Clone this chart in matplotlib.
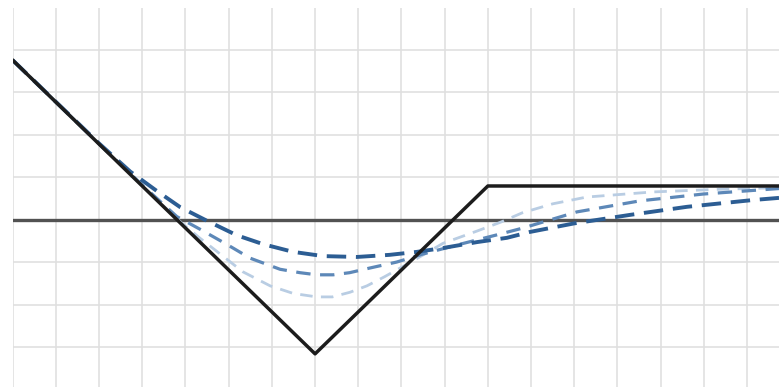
import numpy as np
import matplotlib
matplotlib.use("Agg")
import matplotlib.pyplot as plt

# payoff at expiry (grid units)
payoff_x = [0, 7, 11, 17.74]
payoff_y = [3.76, -3.15, 0.8, 0.8]

# value before expiry, three times to expiry
near_x = [0, 1, 2.0, 2.72, 3.34, 3.88, 4.5, 5.19, 5.8, 6.49, 7.19, 7.97, 8.73,
          9.36, 9.96, 10.75, 11.44, 11.98, 13.0, 14.29, 15.61, 17.14, 17.74]
near_y = [3.76, 2.78, 1.8, 1.14, 0.68, 0.3, -0.02, -0.36, -0.57, -0.75, -0.85, -0.87, -0.82,
          -0.75, -0.66, -0.52, -0.42, -0.28, -0.08, 0.12, 0.31, 0.47, 0.52]

mid_x = [0, 2.0, 3.0, 3.8, 4.34, 4.95, 5.5, 6.19, 6.65, 7.04, 7.42, 7.8, 8.27, 8.89,
         9.5, 10.28, 11.21, 11.81, 13.06, 14.52, 15.98, 17.74]
mid_y = [3.76, 1.79, 0.82, 0.08, -0.22, -0.57, -0.9, -1.16, -1.24, -1.29, -1.29, -1.24, -1.13, -0.99,
         -0.8, -0.59, -0.35, -0.19, 0.19, 0.45, 0.61, 0.74]

far_x = [0, 3.0, 3.9, 4.3, 5.33, 5.96, 6.5, 7.04, 7.4, 7.81, 8.2, 8.6, 9.2, 9.96,
         10.75, 11.3, 11.8, 12.5, 13.29, 14.82, 16.3, 17.74]
far_y = [3.76, 0.8, -0.06, -0.4, -1.22, -1.55, -1.73, -1.81, -1.81, -1.7, -1.55, -1.34, -1.0, -0.55,
         -0.26, -0.05, 0.17, 0.38, 0.54, 0.66, 0.72, 0.76]

fig = plt.figure(figsize=(7.79, 3.87), dpi=100)
ax = fig.add_axes([12.7 / 779, 0, 1 - 12.7 / 779, (387 - 7.5) / 387])
ax.set_xlim(0, 17.74)
ax.set_ylim(-3.93, 5)

ax.set_xticks(np.arange(0, 18, 1))
ax.set_yticks(np.arange(-3, 6, 1))
ax.grid(True, color="#e0e0e0", linewidth=1.2)
ax.tick_params(length=0, labelbottom=False, labelleft=False)
for s in ax.spines.values():
    s.set_visible(False)
ax.set_axisbelow(True)

ax.axhline(0, color="#525252", linewidth=2.4, zorder=2)
ax.plot(far_x, far_y, color="#b9cde3", linewidth=2.0, linestyle=(0, (4.5, 3)), zorder=3)
ax.plot(mid_x, mid_y, color="#5d88b8", linewidth=2.3, linestyle=(0, (4.5, 3)), zorder=3)
ax.plot(near_x, near_y, color="#2c5d93", linewidth=2.8, linestyle=(0, (5, 2.5)), zorder=3)
ax.plot(payoff_x, payoff_y, color="#1c1c1c", linewidth=2.5, zorder=4)

fig.savefig("out.png", dpi=100)
